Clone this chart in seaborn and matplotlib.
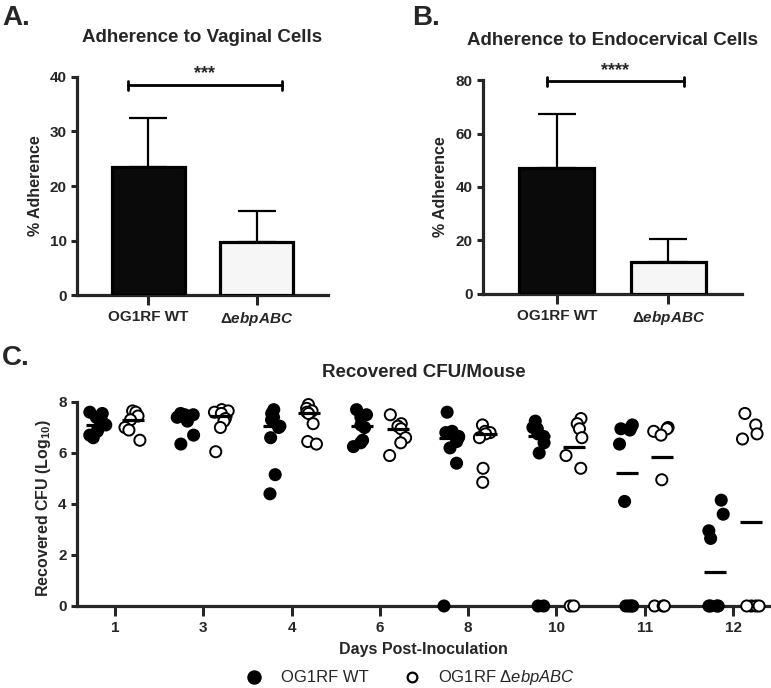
import numpy as np
import pandas as pd
import matplotlib
matplotlib.use('Agg')
import matplotlib.pyplot as plt
from matplotlib.lines import Line2D
import seaborn as sns

# adherence assays (mean and SD, % adherence)
groups = ['OG1RF WT', 'ΔebpABC']
group_labels = ['OG1RF WT', 'Δ$\\mathit{ebpABC}$']
vaginal_mean = [23.5, 9.8]
vaginal_sd = [8.9, 5.7]
endo_mean = [47.2, 11.9]
endo_sd = [20.1, 8.5]

# recovered CFU per mouse (log10), one list per day
days = ['1', '3', '4', '6', '8', '10', '11', '12']
wt_cfu = [
    [7.6, 7.55, 7.4, 7.3, 7.1, 6.95, 6.85, 6.7, 6.6],
    [7.55, 7.5, 7.5, 7.4, 7.25, 6.7, 6.35],
    [7.7, 7.55, 7.4, 7.3, 7.05, 7.0, 6.6, 5.15, 4.4],
    [7.7, 7.5, 7.4, 7.1, 7.0, 6.5, 6.4, 6.25],
    [7.6, 6.85, 6.8, 6.65, 6.6, 6.45, 6.2, 5.6, 0.0],
    [7.25, 7.0, 6.95, 6.75, 6.65, 6.4, 6.0, 0.0, 0.0],
    [7.1, 7.0, 6.95, 6.9, 6.35, 4.1, 0.0, 0.0, 0.0, 0.0],
    [4.15, 3.6, 2.95, 2.65, 0.0, 0.0, 0.0, 0.0],
]
ebp_cfu = [
    [7.65, 7.6, 7.45, 7.3, 7.0, 6.9, 6.5],
    [7.7, 7.65, 7.6, 7.55, 7.35, 7.25, 7.0, 6.05],
    [7.9, 7.75, 7.65, 7.6, 7.55, 7.15, 6.45, 6.35],
    [7.5, 7.15, 7.05, 6.95, 6.6, 6.4, 5.9],
    [7.1, 6.85, 6.8, 6.75, 6.6, 5.4, 4.85],
    [7.35, 7.15, 6.95, 6.6, 5.9, 5.4, 0.0, 0.0],
    [7.0, 6.95, 6.85, 6.7, 4.95, 0.0, 0.0, 0.0],
    [7.55, 7.1, 6.75, 6.55, 0.0, 0.0, 0.0, 0.0],
]

sns.set_style('ticks')
plt.rcParams['font.family'] = ['Liberation Sans', 'DejaVu Sans']
plt.rcParams['font.weight'] = 'bold'
plt.rcParams['axes.labelweight'] = 'bold'
plt.rcParams['axes.titleweight'] = 'bold'
plt.rcParams['mathtext.fontset'] = 'custom'
plt.rcParams['mathtext.rm'] = 'Liberation Sans:weight=bold'
plt.rcParams['mathtext.bf'] = 'Liberation Sans:weight=bold'
plt.rcParams['mathtext.it'] = 'Liberation Sans:style=italic:weight=bold'
plt.rcParams['mathtext.sf'] = 'Liberation Sans:style=italic:weight=normal'

fig = plt.figure(figsize=(7.71, 6.88), dpi=100)
ax_a = fig.add_axes([0.0999, 0.5712, 0.3256, 0.3169])
ax_b = fig.add_axes([0.6265, 0.5727, 0.3359, 0.3110])
ax_c = fig.add_axes([0.0999, 0.1192, 0.8990, 0.2965])


def bar_panel(ax, means, sds, ymax, yticks, title, stars, br_x, br_y):
    sns.barplot(x=groups, y=means, hue=groups, palette=['#0a0a0a', '#f6f6f6'],
                edgecolor='black', linewidth=2.3, width=0.67, legend=False,
                ax=ax, zorder=3)
    ax.errorbar(range(len(groups)), means, yerr=[[0] * len(sds), sds], fmt='none',
                ecolor='black', elinewidth=1.6, capsize=14, capthick=1.6, zorder=2)
    ax.set_ylim(0, ymax)
    ax.set_xlim(-0.66, 1.66)
    ax.set_yticks(yticks)
    ax.set_xticks(range(len(groups)), group_labels)
    ax.set_ylabel('% Adherence', fontsize=11.5)
    ax.yaxis.set_label_coords(-0.135, 0.5)
    ax.set_title(title, fontsize=13.5, pad=25)
    ax.tick_params(axis='both', labelsize=11, width=2.2)
    ax.tick_params(axis='x', length=7)
    ax.tick_params(axis='y', length=4)
    for s in ['left', 'bottom']:
        ax.spines[s].set_linewidth(2.3)
    sns.despine(ax=ax)
    # significance bracket
    cap = ymax * 0.02
    ax.plot([br_x[0], br_x[1]], [br_y, br_y], color='black', lw=2, clip_on=False)
    for bx in br_x:
        ax.plot([bx, bx], [br_y - cap, br_y + cap], color='black', lw=2, clip_on=False)
    ax.text(sum(br_x) / 2, br_y + cap * 0.6, stars, ha='center', va='bottom',
            fontsize=13)


bar_panel(ax_a, vaginal_mean, vaginal_sd, 40, [0, 10, 20, 30, 40],
          'Adherence to Vaginal Cells', '***', (-0.19, 1.23), 38.5)
bar_panel(ax_b, endo_mean, endo_sd, 80, [0, 20, 40, 60, 80],
          'Adherence to Endocervical Cells', '****', (-0.09, 1.14), 79.5)

# panel C
rows = []
for d, w, e in zip(days, wt_cfu, ebp_cfu):
    rows += [(d, 'WT', v) for v in w]
    rows += [(d, 'ebp', v) for v in e]
df = pd.DataFrame(rows, columns=['day', 'strain', 'cfu'])

np.random.seed(7)
sns.stripplot(data=df, x='day', y='cfu', hue='strain', order=days,
              hue_order=['WT', 'ebp'], palette={'WT': 'black', 'ebp': 'white'},
              dodge=True, jitter=0.2, size=8, linewidth=1.4, edgecolor='black',
              legend=False, ax=ax_c, zorder=4)
for coll in ax_c.collections:
    coll.set_clip_on(False)

medians = df.groupby(['day', 'strain'])['cfu'].median()
for i, d in enumerate(days):
    for strain, off in (('WT', -0.2), ('ebp', 0.2)):
        ax_c.hlines(medians[(d, strain)], i + off - 0.125, i + off + 0.125,
                    color='black', lw=2.3, zorder=5)

ax_c.set_ylim(0, 8)
ax_c.set_xlim(-0.43, 7.42)
ax_c.set_yticks([0, 2, 4, 6, 8])
ax_c.set_title('Recovered CFU/Mouse', fontsize=13.5, pad=18)
ax_c.set_ylabel('Recovered CFU (Log$_{\\mathbf{10}}$)', fontsize=11.5)
ax_c.yaxis.set_label_coords(-0.035, 0.48)
ax_c.set_xlabel('Days Post-Inoculation', fontsize=11.5)
ax_c.xaxis.set_label_coords(0.5, -0.175)
ax_c.tick_params(axis='both', labelsize=11, width=2.2)
ax_c.tick_params(axis='x', length=7)
ax_c.tick_params(axis='y', length=4)
for s in ['left', 'bottom']:
    ax_c.spines[s].set_linewidth(2.3)
sns.despine(ax=ax_c)

handles = [
    Line2D([], [], marker='o', ls='none', markersize=9, markerfacecolor='black',
           markeredgecolor='black', markeredgewidth=1.4),
    Line2D([], [], marker='o', ls='none', markersize=7, markerfacecolor='white',
           markeredgecolor='black', markeredgewidth=1.6),
]
ax_c.legend(handles, ['OG1RF WT', 'OG1RF Δ$\\mathsf{ebpABC}$'], loc='center',
            bbox_to_anchor=(0.475, -0.353), ncol=2, frameon=False,
            prop={'size': 12, 'weight': 'normal'}, handletextpad=0.6,
            columnspacing=1.6)

fig.text(0.003, 1 - 25 / 688, 'A.', fontsize=20, va='baseline')
fig.text(0.534, 1 - 25 / 688, 'B.', fontsize=20, va='baseline')
fig.text(0.003, 1 - 365 / 688, 'C.', fontsize=20, va='baseline')

fig.savefig('out.png', dpi=100)
